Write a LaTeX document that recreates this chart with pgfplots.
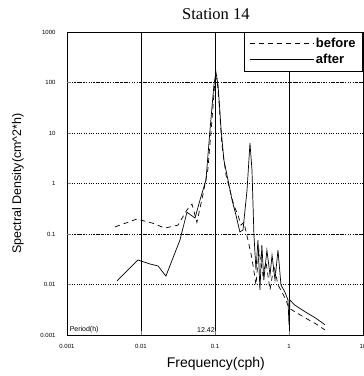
\documentclass[border=0pt]{standalone}
\usepackage{fontspec}
\setmainfont{Liberation Sans}
\newfontfamily\seriffont{Liberation Serif}
\usepackage{pgfplots}
\pgfplotsset{compat=1.18}
\begin{document}
\begin{tikzpicture}
\begin{axis}[
  at={(0pt,0pt)}, anchor=south west,
  scale only axis, width=296pt, height=303pt,
  xmode=log, ymode=log,
  xmin=0.001, xmax=10, ymin=0.001, ymax=1000,
  log basis x=10, log basis y=10,
  xtick={0.001,0.01,0.1,1,10},
  xticklabels={0.001,0.01,0.1,1,10},
  ytick={0.001,0.01,0.1,1,10,100,1000},
  yticklabels={0.001,0.01,0.1,1,10,100,1000},
  tick label style={font=\fontsize{6}{7}\selectfont},
  xticklabel style={yshift=-6pt},
  yticklabel style={xshift=-8pt},
  tick pos=left,
  xmajorgrids, ymajorgrids,
  x grid style={black, solid, line width=0.7pt},
  y grid style={black, dotted, line width=0.5pt},
  extra y ticks={0.1,100},
  extra y tick labels={},
  extra y tick style={grid=major, major grid style={black, solid, line width=0.7pt}},
  axis line style={black, line width=0.6pt},
  title={\seriffont\fontsize{16.5}{18}\selectfont Station 14},
  title style={at={(rel axis cs:0.503,1)}, anchor=south, yshift=3pt},
  xlabel={Frequency(cph)},
  xlabel style={font=\fontsize{14}{16}\selectfont, at={(rel axis cs:0.503,0)}, anchor=north, yshift=-19pt},
  legend style={at={(rel axis cs:1,1)}, anchor=north east, draw=black, line width=0.6pt,
    font=\fontsize{13}{14}\selectfont\bfseries, inner xsep=5pt, inner ysep=4pt,
    row sep=1pt},
  legend cell align=left,
  legend image code/.code={\draw[#1] (0pt,0pt) -- (64pt,0pt);},
  clip=false,
]
\addplot[black, line width=0.7pt, dash pattern=on 5pt off 4pt] coordinates {
(0.00446,0.138) (0.0088,0.198) (0.0141,0.165) (0.0211,0.131) (0.0316,0.15)
(0.0418,0.30) (0.0489,0.39) (0.057,0.17) (0.0685,0.59) (0.08,1.86)
(0.091,18) (0.1,112) (0.106,120) (0.113,45) (0.124,5.8) (0.141,1.46)
(0.159,0.74) (0.18,0.37) (0.204,0.24) (0.225,0.15) (0.246,0.17)
(0.279,0.076) (0.316,0.033) (0.358,0.0098) (0.393,0.048) (0.445,0.0154)
(0.489,0.028) (0.554,0.0078) (0.627,0.024) (0.71,0.0098) (0.804,0.0071)
(0.91,0.0049) (1.0,0.0034) (1.2,0.0029) (1.64,0.0022) (2.25,0.0017) (3.06,0.00126)
};
\addlegendentry{before}
\addplot[black, line width=0.7pt] coordinates {
(0.00473,0.0117) (0.0091,0.0306) (0.0132,0.0255) (0.017,0.0233) (0.0217,0.0147)
(0.0336,0.0758) (0.0418,0.27) (0.0537,0.207) (0.0627,0.47) (0.0755,1.17)
(0.0856,11.5) (0.0967,89) (0.103,160) (0.11,89) (0.121,11.5) (0.132,2.9)
(0.15,1.17) (0.17,0.47) (0.192,0.237) (0.217,0.11) (0.239,0.12) (0.271,0.74)
(0.297,6.3) (0.316,1.86) (0.336,0.095) (0.358,0.0194) (0.381,0.076) (0.405,0.0078)
(0.43,0.06) (0.457,0.0123) (0.503,0.048) (0.554,0.0154) (0.59,0.038) (0.647,0.0123)
(0.71,0.048) (0.779,0.0098) (0.88,0.0071) (0.97,0.0049) (1.0,0.0016) (1.03,0.0049)
(1.2,0.0039) (1.64,0.0029) (2.25,0.0022) (3.06,0.0016)
};
\addlegendentry{after}
\node[anchor=south west, font=\fontsize{7}{8}\selectfont, inner sep=1pt] at (axis cs:0.00105,0.00105) {Period(h)};
\node[anchor=south east, font=\fontsize{7}{8}\selectfont, inner sep=1pt] at (axis cs:0.103,0.00105) {12.42};
\node[rotate=90, anchor=center, font=\fontsize{12.5}{14}\selectfont] at ([xshift=-49pt]rel axis cs:0,0.5) {Spectral Density(cm\^{}2*h)};
\end{axis}
\pgfresetboundingbox
\path (-67pt,-41pt) rectangle (296.5pt,335pt);
\end{tikzpicture}
\end{document}
